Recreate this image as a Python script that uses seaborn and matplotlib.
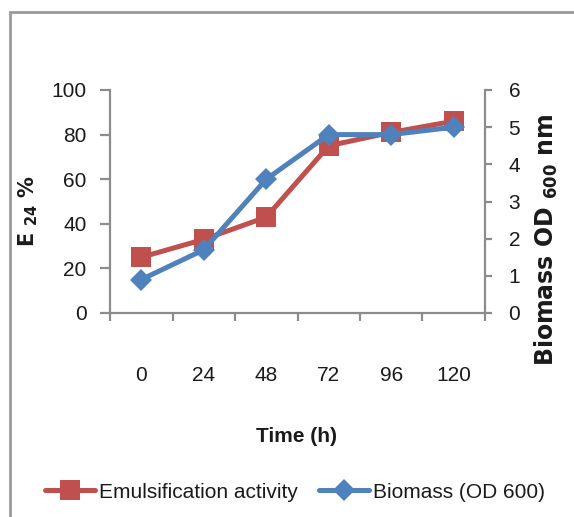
import matplotlib
matplotlib.use("Agg")
import matplotlib.pyplot as plt
from matplotlib.ticker import FixedLocator, NullFormatter
from matplotlib.lines import Line2D
from matplotlib.patches import Rectangle
import seaborn as sns

# Sampling times (h) and measured series
time_labels = ["0", "24", "48", "72", "96", "120"]
e24_values = [25, 33, 43, 75, 81, 86]
biomass_values = [0.9, 1.7, 3.6, 4.8, 4.8, 5.0]
e24_ticks = [0, 20, 40, 60, 80, 100]
od_ticks = [0, 1, 2, 3, 4, 5, 6]

sns.set_theme(style="white")
plt.rcParams["font.family"] = ["Liberation Sans", "DejaVu Sans"]
plt.rcParams["mathtext.fontset"] = "dejavusans"

RED = "#C0504D"
BLUE = "#4F81BD"
GREY = "#8C8C8C"
INK = "#1a1a1a"

W, H = 574, 517
fig = plt.figure(figsize=(W / 100, H / 100), dpi=100)
ax = fig.add_axes([110 / W, 1 - 313 / H, 375 / W, 223 / H])
ax2 = ax.twinx()

sns.lineplot(x=time_labels, y=e24_values, ax=ax, color=RED, lw=3.6,
             marker="s", markersize=14, markeredgewidth=0, sort=False, zorder=3)
sns.lineplot(x=time_labels, y=biomass_values, ax=ax2, color=BLUE, lw=3.6,
             marker="D", markersize=11, markeredgewidth=0, sort=False, zorder=3)

n = len(time_labels)
ax.set_xlim(-0.5, n - 0.5)
ax.set_ylim(0, 100)
ax2.set_ylim(0, 6)
ax.set_yticks(e24_ticks)
ax2.set_yticks(od_ticks)
ax.set_xticks(range(n))
ax.set_xticklabels(time_labels)
ax.xaxis.set_minor_locator(FixedLocator([i - 0.5 for i in range(n + 1)]))
ax.xaxis.set_minor_formatter(NullFormatter())

for a in (ax, ax2):
    a.grid(False)
    a.set_facecolor("none")
    a.spines["top"].set_visible(False)
    for s in ("left", "right", "bottom"):
        a.spines[s].set_color(GREY)
        a.spines[s].set_linewidth(1.6)
ax.spines["right"].set_visible(False)
ax2.spines["left"].set_visible(False)
ax2.spines["bottom"].set_visible(False)

ax.tick_params(axis="x", which="major", length=0, pad=38, labelsize=15, colors=INK)
ax.tick_params(axis="x", which="minor", direction="out", length=6, width=1.6,
               color=GREY, bottom=True)
ax.tick_params(axis="y", direction="out", length=7, width=1.6, color=GREY,
               pad=10, labelsize=15, labelcolor=INK, left=True)
ax2.tick_params(axis="y", direction="out", length=5, width=1.6, color=GREY,
                pad=12, labelsize=15, labelcolor=INK, right=True)

ax.set_xlabel("")
ax.set_ylabel("")
ax2.set_ylabel("")

fig.text(28 / W, 1 - 211 / H, r"E $_{\mathbf{24}}$ %", rotation=90, ha="center", va="center",
         fontsize=15, fontweight="bold", family="DejaVu Sans", color=INK)
fig.text(546 / W, 1 - 240 / H, r"Biomass OD $_{\mathbf{600}}$ nm", rotation=90,
         ha="center", va="center", fontsize=17, fontweight="bold",
         family="DejaVu Sans", color=INK)
fig.text(296 / W, 1 - 437 / H, "Time (h)", ha="center", va="center",
         fontsize=15, fontweight="bold", color=INK)

handles = [
    Line2D([], [], color=RED, lw=3.6, marker="s", markersize=14, markeredgewidth=0),
    Line2D([], [], color=BLUE, lw=3.6, marker="D", markersize=11, markeredgewidth=0),
]
fig.legend(handles, ["Emulsification activity", "Biomass (OD 600)"],
           loc="center", bbox_to_anchor=(295 / W, 1 - 492 / H), ncol=2,
           frameon=False, fontsize=15, handlelength=2.4, handletextpad=0.2,
           columnspacing=1.0, labelcolor=INK)

# outer chart border (runs off the right and bottom edges)
fig.patches.append(Rectangle((10 / W, -0.05), 1.2, 1 - 12 / H + 0.05,
                             transform=fig.transFigure, fill=False,
                             edgecolor="#9a9a9a", lw=2.0, zorder=0))

fig.savefig("out.png", dpi=100)
